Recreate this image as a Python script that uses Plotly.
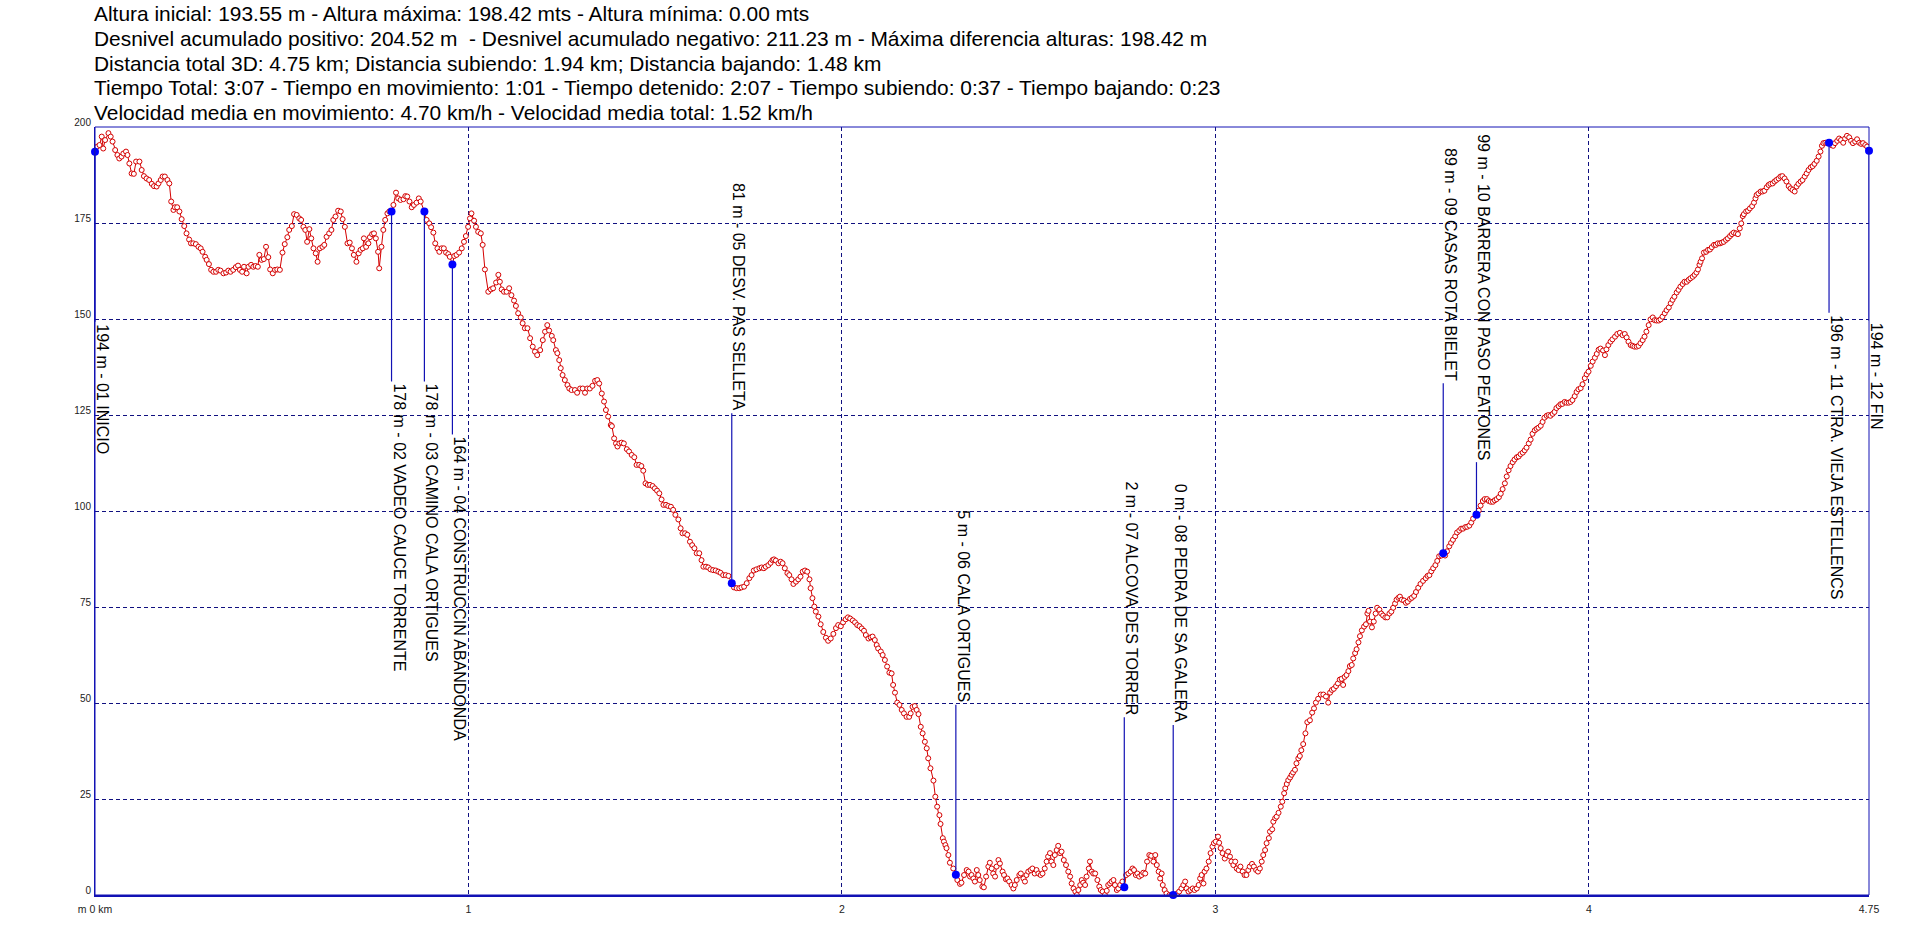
import plotly.graph_objects as go

# ---------------- data ----------------
stats_lines = [
    "Altura inicial: 193.55 m - Altura máxima: 198.42 mts - Altura mínima: 0.00 mts",
    "Desnivel acumulado positivo: 204.52 m \u00a0- Desnivel acumulado negativo: 211.23 m - Máxima diferencia alturas: 198.42 m",
    "Distancia total 3D: 4.75 km; Distancia subiendo: 1.94 km; Distancia bajando: 1.48 km",
    "Tiempo Total: 3:07 - Tiempo en movimiento: 1:01 - Tiempo detenido: 2:07 - Tiempo subiendo: 0:37 - Tiempo bajando: 0:23",
    "Velocidad media en movimiento: 4.70 km/h - Velocidad media total: 1.52 km/h",
]

dist_km = [
    0.000, 0.006, 0.012, 0.018, 0.022, 0.027, 0.036, 0.042, 0.047, 0.054, 0.060, 0.065, 0.071, 0.076, 0.083, 0.087,
    0.092, 0.098, 0.104, 0.110, 0.119, 0.125, 0.131, 0.138, 0.145, 0.152, 0.158, 0.165, 0.170, 0.176, 0.181, 0.187,
    0.194, 0.199, 0.204, 0.210, 0.214, 0.220, 0.226, 0.232, 0.239, 0.245, 0.252, 0.257, 0.263, 0.270, 0.277, 0.283,
    0.288, 0.295, 0.299, 0.305, 0.311, 0.317, 0.324, 0.330, 0.336, 0.344, 0.351, 0.357, 0.363, 0.370, 0.377, 0.383,
    0.388, 0.394, 0.399, 0.406, 0.411, 0.418, 0.424, 0.430, 0.436, 0.440, 0.446, 0.452, 0.458, 0.464, 0.469, 0.476,
    0.482, 0.488, 0.495, 0.502, 0.508, 0.515, 0.520, 0.527, 0.533, 0.540, 0.547, 0.552, 0.558, 0.563, 0.568, 0.574,
    0.579, 0.585, 0.591, 0.596, 0.602, 0.609, 0.614, 0.620, 0.627, 0.633, 0.638, 0.644, 0.651, 0.658, 0.663, 0.669,
    0.676, 0.682, 0.688, 0.693, 0.700, 0.706, 0.711, 0.717, 0.720, 0.726, 0.732, 0.736, 0.742, 0.747, 0.752, 0.758,
    0.761, 0.767, 0.772, 0.777, 0.783, 0.788, 0.794, 0.799, 0.806, 0.812, 0.818, 0.826, 0.831, 0.836, 0.842, 0.848,
    0.854, 0.861, 0.867, 0.872, 0.882, 0.888, 0.895, 0.900, 0.906, 0.911, 0.917, 0.922, 0.928, 0.934, 0.940, 0.946,
    0.950, 0.957, 0.962, 0.968, 0.975, 0.982, 0.988, 0.993, 0.999, 1.004,
    1.008, 1.015, 1.020, 1.026, 1.033, 1.038, 1.044, 1.053, 1.060, 1.066, 1.074, 1.080, 1.084, 1.089, 1.095, 1.102,
    1.109, 1.115, 1.122, 1.127, 1.133, 1.140, 1.145, 1.151, 1.158, 1.165, 1.172, 1.178, 1.184, 1.192, 1.199, 1.205,
    1.211, 1.216, 1.223, 1.227, 1.234, 1.238, 1.243, 1.247, 1.252, 1.258, 1.265, 1.270, 1.276, 1.285, 1.291, 1.299,
    1.306, 1.312, 1.318, 1.325, 1.332, 1.339, 1.345, 1.350, 1.357, 1.363, 1.368, 1.374, 1.381, 1.384, 1.390, 1.395,
    1.399, 1.404, 1.410, 1.416, 1.424, 1.430, 1.437, 1.444, 1.450, 1.457, 1.463, 1.468, 1.474, 1.480, 1.486, 1.493,
    1.499, 1.505, 1.511, 1.517, 1.522, 1.529, 1.535, 1.542, 1.548, 1.554, 1.562, 1.568, 1.573, 1.580, 1.586, 1.593,
    1.599, 1.605, 1.611, 1.618, 1.624, 1.629, 1.636, 1.642, 1.648, 1.655, 1.662, 1.669, 1.675, 1.682, 1.689, 1.696,
    1.705, 1.711, 1.718, 1.725, 1.731, 1.738, 1.745, 1.752, 1.758, 1.764, 1.771, 1.779, 1.785, 1.791, 1.796, 1.803,
    1.809, 1.814, 1.818, 1.823, 1.830, 1.836, 1.841, 1.847, 1.854, 1.859, 1.865, 1.870, 1.877, 1.883, 1.889, 1.895,
    1.901, 1.907, 1.913, 1.916, 1.921, 1.926, 1.930, 1.937, 1.943, 1.950, 1.957, 1.963, 1.970, 1.977, 1.984, 1.990,
    1.997, 2.003, 2.010, 2.016, 2.022, 2.029, 2.035, 2.041, 2.047,
    2.053, 2.059, 2.064, 2.071, 2.077, 2.082, 2.088, 2.093, 2.097, 2.104, 2.109, 2.115, 2.121, 2.127, 2.133, 2.137,
    2.142, 2.148, 2.154, 2.160, 2.166, 2.173, 2.180, 2.184, 2.189, 2.195, 2.200, 2.205, 2.211, 2.216, 2.222, 2.227,
    2.231, 2.237, 2.245, 2.250, 2.255, 2.261, 2.264, 2.270, 2.273, 2.277, 2.280, 2.285, 2.289, 2.298, 2.305, 2.309,
    2.316, 2.320, 2.327, 2.334, 2.339, 2.343, 2.347, 2.352, 2.356, 2.361, 2.365, 2.369, 2.376, 2.380, 2.386, 2.392,
    2.396, 2.401, 2.405, 2.410, 2.414, 2.419, 2.423, 2.430, 2.434, 2.439, 2.443, 2.448, 2.454, 2.459, 2.463, 2.468,
    2.475, 2.479, 2.486, 2.490, 2.494, 2.499, 2.505, 2.510, 2.516, 2.521, 2.526, 2.532, 2.537, 2.543, 2.548, 2.552,
    2.557, 2.561, 2.566, 2.570, 2.575, 2.579, 2.584, 2.588, 2.594, 2.600, 2.606, 2.611, 2.615, 2.620, 2.625, 2.629,
    2.633, 2.638, 2.642, 2.646, 2.651, 2.655, 2.661, 2.664, 2.669, 2.673, 2.678, 2.684, 2.689, 2.693, 2.698, 2.704,
    2.709, 2.713, 2.718, 2.722, 2.727, 2.731, 2.736, 2.740, 2.745, 2.751, 2.756, 2.761, 2.767, 2.773, 2.778, 2.782,
    2.787, 2.791, 2.796, 2.802, 2.807, 2.812, 2.817, 2.823, 2.828, 2.834, 2.839, 2.843, 2.848, 2.852, 2.856, 2.859,
    2.864, 2.869, 2.877, 2.882, 2.887, 2.892, 2.898, 2.903, 2.909, 2.914, 2.919, 2.923, 2.928, 2.933, 2.939, 2.944,
    2.950, 2.955, 2.959, 2.963, 2.968, 2.971, 2.976, 2.982, 2.987, 2.992, 2.996, 3.001, 3.007, 3.010, 3.014, 3.019,
    3.025, 3.030, 3.034, 3.039, 3.043, 3.048, 3.053, 3.057, 3.062, 3.067, 3.073, 3.078, 3.083, 3.088, 3.092, 3.098,
    3.103, 3.109, 3.114, 3.119, 3.124, 3.128, 3.133, 3.137, 3.143, 3.146, 3.152, 3.155, 3.160, 3.164, 3.169, 3.175,
    3.179, 3.184, 3.187, 3.191, 3.195, 3.200, 3.204, 3.208, 3.213, 3.217, 3.222,
    3.226, 3.230, 3.235, 3.241, 3.246, 3.253, 3.259, 3.264, 3.269, 3.275, 3.282, 3.289, 3.296, 3.302, 3.307, 3.312,
    3.317, 3.323, 3.328, 3.333, 3.338, 3.342, 3.346, 3.351, 3.356, 3.360, 3.365, 3.369, 3.374, 3.378, 3.383, 3.387,
    3.392, 3.398, 3.403, 3.407, 3.410, 3.414, 3.419, 3.424, 3.429, 3.433, 3.439, 3.444, 3.449, 3.455, 3.460, 3.466,
    3.471, 3.476, 3.481, 3.485, 3.490, 3.494, 3.499, 3.505, 3.510, 3.515, 3.521, 3.526, 3.532, 3.537, 3.543, 3.549,
    3.556, 3.563, 3.568, 3.573, 3.578, 3.583, 3.589, 3.594, 3.599, 3.605, 3.610, 3.615, 3.620, 3.626, 3.631, 3.636,
    3.642, 3.647, 3.653, 3.658, 3.663, 3.669, 3.674, 3.680, 3.685, 3.690, 3.699, 3.705, 3.710, 3.716, 3.721, 3.727,
    3.732, 3.737, 3.743, 3.748, 3.753, 3.759, 3.764, 3.769, 3.775, 3.780, 3.785, 3.790, 3.796, 3.801, 3.807, 3.812,
    3.817, 3.823, 3.828, 3.833, 3.839, 3.844, 3.849, 3.855, 3.860, 3.865, 3.871, 3.876, 3.881, 3.887, 3.892, 3.897,
    3.903, 3.908, 3.913, 3.919, 3.924, 3.929, 3.935, 3.940, 3.946, 3.951, 3.956, 3.962, 3.967, 3.972, 3.978, 3.983,
    3.989, 3.994, 3.999, 4.005, 4.010, 4.016, 4.021, 4.026, 4.031,
    4.038, 4.043, 4.047, 4.052, 4.058, 4.063, 4.070, 4.076, 4.083, 4.090, 4.096, 4.101, 4.106, 4.112, 4.117, 4.122,
    4.128, 4.133, 4.138, 4.144, 4.149, 4.154, 4.160, 4.165, 4.171, 4.176, 4.181, 4.187, 4.192, 4.197, 4.203, 4.208,
    4.214, 4.219, 4.224, 4.229, 4.235, 4.240, 4.245, 4.251, 4.256, 4.262, 4.267, 4.272, 4.278, 4.283, 4.288, 4.292,
    4.296, 4.299, 4.303, 4.308, 4.314, 4.319, 4.324, 4.329, 4.335, 4.340, 4.345, 4.351, 4.356, 4.361, 4.367, 4.372,
    4.378, 4.383, 4.388, 4.394, 4.399, 4.404, 4.408, 4.412, 4.415, 4.421, 4.426, 4.431, 4.437, 4.442, 4.446, 4.449,
    4.454, 4.460, 4.465, 4.470, 4.476, 4.481, 4.486, 4.492, 4.497, 4.502, 4.508, 4.513, 4.518, 4.524, 4.529, 4.535,
    4.540, 4.545, 4.551, 4.556, 4.561, 4.567, 4.572, 4.578, 4.583, 4.588, 4.594, 4.599, 4.604, 4.610, 4.615, 4.620,
    4.624, 4.628, 4.633, 4.638, 4.643, 4.649, 4.654, 4.659, 4.665, 4.670, 4.675, 4.681, 4.686, 4.691, 4.697, 4.702,
    4.707, 4.713, 4.718, 4.724, 4.729, 4.734, 4.740, 4.745, 4.750,
]

elev_m = [
    193.55, 194.9, 195.3, 197.5, 194.4, 196.6, 198.4, 197.5, 196.2, 194.0, 192.7, 191.8, 192.3, 193.1, 193.6, 192.7,
    190.5, 187.9, 187.8, 191.0, 191.0, 188.8, 187.2, 186.6, 186.2, 185.2, 184.6, 184.5, 185.3, 186.2, 187.1, 187.1,
    186.2, 185.3, 180.6, 178.4, 179.1, 179.1, 178.0, 176.0, 174.2, 172.3, 170.7, 169.7, 169.7, 169.5, 168.8, 168.4,
    167.5, 166.2, 165.4, 164.3, 162.8, 162.3, 162.3, 162.8, 162.6, 161.9, 162.1, 162.6, 162.3, 162.8, 163.5, 163.9,
    162.8, 162.3, 163.6, 161.9, 163.6, 164.1, 163.6, 163.8, 163.6, 166.7, 165.4, 165.6, 168.8, 166.1, 162.9, 161.9,
    162.8, 162.9, 162.8, 167.3, 169.5, 171.3, 173.2, 174.2, 177.3, 177.1, 176.2, 175.8, 174.0, 173.2, 170.1, 173.4,
    171.0, 168.4, 167.1, 164.9, 168.4, 168.8, 169.3, 171.4, 172.3, 173.2, 175.8, 176.7, 178.2, 178.0, 176.0, 174.0,
    169.7, 169.9, 168.4, 166.7, 164.9, 167.1, 168.0, 168.4, 171.0, 168.8, 169.7, 171.3, 172.1, 172.3, 171.0, 167.5,
    163.2, 168.8, 173.2, 175.8, 177.5, 178.0, 178.0, 179.7, 182.9, 181.4, 181.0, 181.2, 182.0, 181.9, 180.6, 179.1,
    179.7, 180.3, 181.4, 180.6, 178.0, 175.8, 174.9, 173.9, 172.5, 169.7, 168.4, 167.5, 168.4, 168.4, 167.3, 166.9,
    166.2, 164.2, 166.4, 166.7, 167.3, 168.4, 170.1, 171.6, 174.0, 176.2,
    177.5, 175.6, 174.0, 172.7, 172.3, 169.3, 162.9, 157.1, 157.7, 158.0, 159.5, 161.5, 159.7, 157.7, 157.1, 157.1,
    158.0, 156.2, 154.8, 153.4, 151.5, 150.4, 148.9, 147.6, 147.6, 145.0, 142.8, 141.5, 140.6, 141.9, 144.5, 146.7,
    148.4, 147.0, 145.6, 144.5, 141.9, 141.1, 139.3, 137.2, 135.4, 134.1, 132.8, 131.9, 131.5, 131.5, 130.8, 131.9,
    131.9, 130.8, 131.9, 131.9, 132.6, 133.9, 134.1, 133.2, 130.6, 128.5, 126.3, 124.6, 122.4, 122.1, 118.9, 117.6,
    116.8, 117.6, 117.8, 117.6, 116.1, 115.5, 114.6, 114.0, 112.0, 112.0, 111.7, 110.5, 107.2, 106.8, 106.8, 106.5,
    105.9, 105.3, 104.6, 103.0, 101.6, 101.6, 101.3, 101.1, 100.3, 99.0, 97.8, 95.5, 94.2, 94.2, 93.8, 92.0,
    91.1, 90.3, 89.0, 89.0, 87.2, 85.5, 85.5, 85.3, 84.8, 84.6, 84.5, 84.2, 83.9, 83.3, 83.3, 83.1,
    81.2, 80.1, 79.9, 79.9, 80.1, 80.3, 81.2, 82.5, 83.3, 84.5, 84.8, 85.1, 85.3, 85.1, 85.5, 85.9,
    86.5, 87.2, 87.4, 87.1, 86.4, 86.8, 86.4, 85.1, 83.8, 83.3, 82.2, 81.0, 81.6, 82.2, 82.9, 84.2,
    84.5, 84.2, 82.2, 79.9, 77.3, 75.1, 73.8, 72.5, 70.5, 68.5, 67.0, 66.2, 66.8, 68.0, 69.5, 70.3,
    70.0, 71.0, 71.8, 72.3, 72.0, 71.5, 71.0, 70.3, 70.0,
    69.4, 68.8, 67.7, 66.8, 67.1, 67.3, 66.4, 65.1, 64.2, 63.4, 62.5, 61.2, 59.5, 57.9, 57.7, 54.7,
    52.7, 50.1, 49.5, 48.2, 47.3, 46.4, 46.4, 47.3, 49.0, 49.2, 48.2, 47.1, 43.8, 42.1, 39.9, 38.2,
    35.6, 33.0, 29.8, 25.6, 23.0, 20.8, 18.5, 14.8, 13.9, 13.0, 12.2, 10.4, 8.4, 6.9, 5.3, 3.9,
    2.9, 3.2, 5.2, 6.5, 6.1, 4.8, 5.2, 4.3, 3.5, 6.5, 5.2, 3.9, 2.2, 2.0, 4.8, 7.4,
    8.4, 6.9, 5.6, 4.8, 7.4, 9.1, 8.2, 6.1, 5.2, 4.1, 4.3, 3.5, 2.6, 1.7, 2.6, 3.9,
    5.2, 5.6, 4.3, 3.5, 5.2, 6.1, 6.5, 6.9, 5.6, 6.5, 5.6, 5.2, 5.6, 6.9, 8.7, 10.0,
    10.9, 8.7, 7.8, 10.4, 11.7, 12.8, 10.9, 11.3, 9.1, 7.8, 6.1, 4.8, 3.0, 1.7, 0.9, 0.0,
    1.3, 2.6, 3.9, 3.2, 2.6, 4.8, 6.9, 8.7, 6.1, 5.6, 5.6, 3.9, 2.2, 1.3, 0.9, 0.0,
    1.1, 2.6, 3.0, 3.5, 3.9, 2.6, 1.3, 1.7, 2.6, 3.5, 2.0, 5.2, 5.6, 6.1, 6.9, 6.5,
    5.2, 5.6, 4.8, 5.2, 5.8, 5.6, 8.7, 10.4, 10.2, 8.7, 10.4, 7.8, 6.1, 4.3, 5.6, 2.6,
    1.3, 0.4, 0.0, 0.0, 0.0, 0.0, 0.4, 0.9, 1.7, 2.6, 3.5, 1.7, 0.9, 1.3, 1.7, 1.3,
    1.7, 2.6, 4.3, 5.2, 3.0, 6.1, 6.9, 8.7, 10.9, 12.6, 13.5, 13.9, 15.2, 13.6, 12.2, 10.9,
    9.5, 10.4, 11.3, 10.0, 8.7, 7.8, 8.7, 6.9, 6.5, 7.4, 6.1, 5.2, 5.2, 6.5, 7.4, 8.1,
    7.4, 6.5, 6.1, 6.9, 8.7, 10.4, 11.7, 13.5, 14.8, 16.5, 17.1, 19.1, 20.0, 20.4, 21.4, 23.0,
    24.3, 26.5, 27.8, 28.9, 29.9, 30.6, 31.3, 31.9, 32.6, 34.3, 35.6,
    36.2, 37.7, 39.3, 42.1, 45.0, 45.5, 47.5, 48.6, 50.1, 51.1, 52.2, 52.2, 51.7, 50.1, 52.7, 53.4,
    53.7, 54.4, 55.1, 56.1, 56.3, 54.7, 56.8, 57.3, 58.3, 59.6, 59.9, 61.6, 63.0, 64.0, 65.8, 67.4,
    68.9, 69.9, 70.5, 73.3, 74.0, 71.2, 69.7, 71.2, 73.3, 74.8, 74.3, 73.3, 72.8, 72.3, 72.3, 73.3,
    73.8, 74.8, 75.9, 76.9, 77.4, 77.7, 76.9, 76.7, 76.1, 76.4, 77.1, 77.4, 77.9, 78.9, 80.0, 81.0,
    81.8, 82.5, 83.1, 83.3, 84.3, 85.1, 85.9, 87.0, 88.2, 88.4, 89.0, 88.4, 89.5, 90.8, 91.7, 92.5,
    93.4, 94.4, 94.9, 95.4, 95.4, 95.8, 95.9, 96.2, 97.0, 98.0, 99.0, 100.1, 101.4, 102.6, 103.1, 103.1,
    102.6, 102.4, 102.4, 102.8, 103.1, 103.6, 104.5, 105.7, 107.2, 109.0, 110.6, 111.7, 112.7, 113.4, 114.0, 114.2,
    114.8, 115.2, 115.8, 116.5, 117.6, 118.6, 120.1, 121.0, 121.4, 121.7, 122.2, 123.2, 124.3, 124.8, 125.0, 124.8,
    125.3, 125.8, 126.8, 127.3, 127.8, 127.9, 128.4, 128.2, 128.2, 128.4, 128.9, 129.9, 131.0, 131.7, 132.0, 133.0,
    134.6, 135.6, 136.3, 137.8, 138.9, 139.9, 140.9, 142.0, 142.3,
    141.8, 140.6, 142.1, 143.2, 144.1, 144.7, 145.4, 146.1, 146.4, 145.8, 146.1, 145.2, 144.1, 143.2, 143.0, 142.8,
    142.8, 143.0, 143.7, 144.5, 145.4, 146.7, 148.4, 149.9, 150.4, 149.7, 149.6, 149.6, 149.9, 150.6, 151.5, 152.3,
    153.0, 154.1, 155.0, 155.8, 156.9, 157.6, 158.4, 159.1, 159.7, 159.7, 160.2, 160.6, 161.0, 161.5, 162.1, 162.9,
    164.1, 164.9, 165.8, 167.3, 167.5, 168.0, 168.1, 168.7, 169.3, 169.3, 169.7, 169.7, 169.9, 170.1, 170.6, 171.0,
    171.6, 172.1, 172.5, 172.3, 172.1, 173.6, 174.9, 176.8, 177.3, 178.0, 178.2, 178.8, 179.4, 180.3, 181.4, 182.3,
    182.7, 183.2, 183.2, 183.4, 184.3, 184.9, 185.2, 185.3, 185.8, 186.2, 186.6, 187.1, 187.2, 186.6, 185.8, 184.6,
    184.0, 183.6, 183.2, 184.5, 185.2, 185.8, 186.2, 187.1, 187.9, 188.8, 189.5, 189.8, 190.4, 191.2, 192.3, 193.6,
    195.1, 195.8, 195.9, 195.8, 195.9, 195.3, 195.1, 195.8, 196.4, 197.0, 196.6, 195.9, 197.0, 197.7, 197.3, 196.4,
    195.8, 196.2, 196.8, 195.9, 195.6, 195.8, 195.3, 194.9, 193.8,
]

wp_km = [0.0, 0.794, 0.882, 0.957, 1.705, 2.305, 2.756, 2.887, 3.610, 3.699, 4.643, 4.750]
wp_alt = [193.55, 178.0, 178.0, 164.2, 81.2, 5.3, 2.0, 0.0, 89.0, 99.0, 195.9, 193.8]
wp_names = [
    "01 INICIO", "02 VADEO CAUCE TORRENTE", "03 CAMINO CALA ORTIGUES", "04 CONSTRUCCIN ABANDONDA",
    "05 DESV. PAS SELLETA", "06 CALA ORTIGUES", "07 ALCOVA DES TORRER", "08 PEDRA DE SA GALERA",
    "09 CASAS ROTA BIELET", "10 BARRERA CON PASO PEATONES", "11 CTRA. VIEJA ESTELLENCS", "12 FIN",
]

y_ticks = [0, 25, 50, 75, 100, 125, 150, 175, 200]
x_ticks = [0, 1, 2, 3, 4, 4.75]
x_ticktext = ["m 0 km", "1", "2", "3", "4", "4.75"]

# ---------------- layout constants ----------------
W, H = 1916, 942
ML, MR, MT, MB = 95, 47, 127, 47
PW, PH = W - ML - MR, H - MT - MB
Y_MAX = 200.0
PX_PER_M = PH / Y_MAX
FONT = "Liberation Sans, Arial, sans-serif"
LBL_SIZE = 16
HEAD_SIZE = 20.9
BLUE = "#1212b4"
GRID = "#101080"
RED = "#d40000"

# approximate Arial advance widths (em) for label length estimation
def text_px(s, size):
    w = 0.0
    for ch in s:
        if ch == " ":
            w += 0.278
        elif ch in "-":
            w += 0.333
        elif ch in ".,":
            w += 0.278
        elif ch == "m":
            w += 0.833
        elif ch.isdigit():
            w += 0.556
        elif ch in "I":
            w += 0.278
        elif ch in "MW":
            w += 0.85
        elif ch in "OQGCDHNUR":
            w += 0.73
        else:
            w += 0.667
    return w * size

fig = go.Figure()

# profile line with open markers
fig.add_trace(go.Scatter(
    x=dist_km, y=elev_m, mode="lines+markers",
    line=dict(color=RED, width=1),
    marker=dict(symbol="circle", size=5, color="white", line=dict(color=RED, width=1)),
    hoverinfo="skip", showlegend=False,
))

# waypoint stems + labels
stem_x, stem_y = [], []
annotations = []
LINE_PX = 170
for k, a, n in zip(wp_km, wp_alt, wp_names):
    label = f"{round(a)} m - {n}"
    tl_m = (text_px(label, LBL_SIZE) + 4) / PX_PER_M
    line_m = LINE_PX / PX_PER_M
    if a >= 120:
        end = a - line_m
        yanchor = "top"
    else:
        end = a + line_m
        if end + tl_m > Y_MAX - 0.5:
            end = Y_MAX - 0.5 - tl_m
        yanchor = "bottom"
    stem_x += [k, k, None]
    stem_y += [a, end, None]
    annotations.append(dict(
        x=k, y=end, xref="x", yref="y", text=label, showarrow=False,
        textangle=90, xanchor="left", yanchor=yanchor, xshift=-3,
        font=dict(family=FONT, size=LBL_SIZE, color="#000000"),
    ))

fig.add_trace(go.Scatter(
    x=stem_x, y=stem_y, mode="lines", line=dict(color=BLUE, width=1.2),
    hoverinfo="skip", showlegend=False, cliponaxis=False,
))
fig.add_trace(go.Scatter(
    x=wp_km, y=wp_alt, mode="markers",
    marker=dict(symbol="circle", size=8, color="#0000ff"),
    hoverinfo="skip", showlegend=False, cliponaxis=False,
))

# statistics text block
line_centers_px = [14, 38.5, 63, 87.5, 112]
for s, yc in zip(stats_lines, line_centers_px):
    annotations.append(dict(
        x=(92 - ML) / PW, y=1 + (MT - yc) / PH, xref="paper", yref="paper",
        text=s, showarrow=False, xanchor="left", yanchor="middle",
        font=dict(family=FONT, size=HEAD_SIZE, color="#000000"),
    ))

fig.update_layout(
    width=W, height=H,
    margin=dict(l=ML, r=MR, t=MT, b=MB, pad=0),
    paper_bgcolor="white", plot_bgcolor="white",
    showlegend=False,
    annotations=annotations,
    shapes=[dict(type="rect", xref="paper", yref="paper", x0=0, x1=1, y0=0, y1=1,
                 line=dict(color=BLUE, width=1), layer="above")],
    xaxis=dict(
        range=[0, 4.75], tickvals=x_ticks, ticktext=x_ticktext,
        showgrid=True, gridcolor=GRID, gridwidth=1, griddash="4px,3px",
        zeroline=False, showline=True, linecolor=BLUE, linewidth=2,
        ticks="", ticklabelstandoff=3,
        tickfont=dict(family=FONT, size=10.5, color="#222222"),
        fixedrange=True,
    ),
    yaxis=dict(
        range=[0, 200], tickvals=y_ticks, ticktext=[str(v) for v in y_ticks],
        showgrid=True, gridcolor=GRID, gridwidth=1, griddash="4px,3px",
        zeroline=False, showline=True, linecolor=BLUE, linewidth=1,
        ticks="", ticklabelstandoff=1, ticklabelshift=-5,
        tickfont=dict(family=FONT, size=10, color="#222222"),
        fixedrange=True,
    ),
)

fig.write_html("out.html", config={"displayModeBar": False},
               post_script="document.body.style.margin='0';")
